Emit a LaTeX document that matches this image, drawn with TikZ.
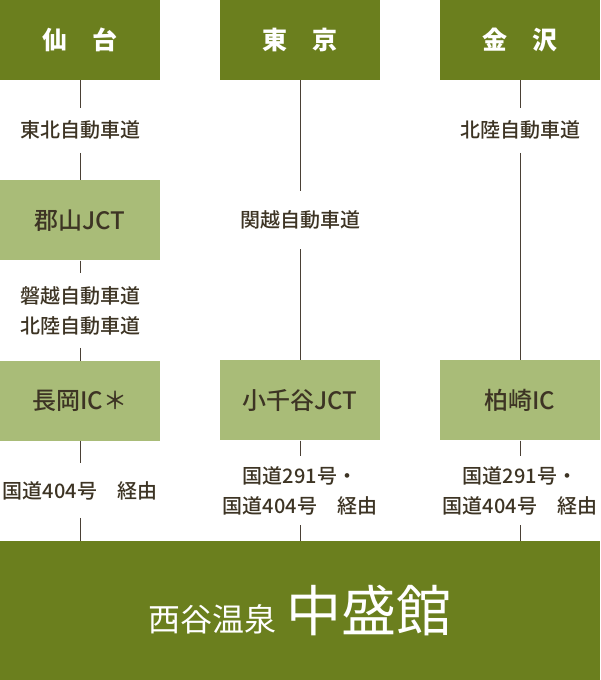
\documentclass[tikz,border=0pt]{standalone}
\usepackage{fontspec}
\setmainfont{Noto Sans CJK JP}
\newfontfamily\mediumfont{Noto Sans CJK JP Medium}
\usepackage{tikz}
\usetikzlibrary{positioning, calc}

\definecolor{olive}{HTML}{6B7F1E}
\definecolor{leaf}{HTML}{A9BC78}
\definecolor{ink}{HTML}{3D3424}
\definecolor{rule}{HTML}{4A4035}

\begin{document}
\begin{tikzpicture}[
        x=1pt, y=-1pt,
        city/.style={
          rectangle,
          fill=olive,
          text=white,
          minimum width=160pt,
          minimum height=80pt,
          inner sep=0pt,
          font=\fontsize{25}{25}\selectfont\bfseries
        },
        exit/.style={
          rectangle,
          fill=leaf,
          text=ink,
          minimum width=160pt,
          minimum height=80pt,
          inner sep=0pt,
          font=\fontsize{24}{24}\selectfont\mediumfont
        },
        road/.style={
          rectangle,
          text=ink,
          align=center,
          inner sep=0pt,
          font=\fontsize{20}{30}\selectfont\mediumfont
        },
        link/.style={
          draw=rule,
          line width=0.9pt
        }
      ]
      \useasboundingbox (0,0) rectangle (600,680);

      % Nodes
      \node [city] (sendai) at (80,40) {仙　台};
      \node [city] (tokyo) at (300,40) {東　京};
      \node [city] (kanazawa) at (520,40) {金　沢};
      \node [exit, below=100pt of sendai] (koriyama) {郡山JCT};
      \node [exit, below=100pt of koriyama] (nagaoka) {長岡IC＊};
      \node [exit, below=280pt of tokyo] (ojiya) {小千谷JCT};
      \node [exit, below=280pt of kanazawa] (kashiwazaki) {柏崎IC};
      \node [city, minimum width=600pt, minimum height=140pt, below=100pt of ojiya] (nakamori)
        {{\fontsize{32}{32}\selectfont\mdseries 西谷温泉}\hspace{10pt}{\fontsize{55}{55}\selectfont\mdseries 中盛館}};

      % Road labels
      \node [road, minimum height=45pt] (tohoku) at ($(sendai)!0.5!(koriyama)$) {東北自動車道};
      \node [road, minimum height=74pt] (bane) at ($(koriyama)!0.5!(nagaoka)$) {磐越自動車道\\北陸自動車道};
      \node [road, minimum height=58pt] (kanetsu) at ($(tokyo)!0.5!(ojiya)$) {関越自動車道};
      \node [road, minimum height=45pt] (hokuriku) at (kanazawa |- tohoku) {北陸自動車道};
      \node [road, minimum height=69pt] (ojiyaroute) at ($(ojiya.south)!0.5!(nakamori.north)$) {国道291号・\\国道404号　経由};
      \node [road, minimum height=69pt] (kashiroute) at (kashiwazaki |- ojiyaroute) {国道291号・\\国道404号　経由};
      \node [road, minimum height=54pt] (nagaroute) at (nagaoka |- ojiyaroute) {国道404号　経由};

      % Connectors
      \draw [link] (sendai) -- (tohoku);
      \draw [link] (tohoku) -- (koriyama);
      \draw [link] (koriyama) -- (bane);
      \draw [link] (bane) -- (nagaoka);
      \draw [link] (nagaoka) -- (nagaroute);
      \draw [link] (nagaroute) -- (nagaroute |- nakamori.north);
      \draw [link] (tokyo) -- (kanetsu);
      \draw [link] (kanetsu) -- (ojiya);
      \draw [link] (ojiya) -- (ojiyaroute);
      \draw [link] (ojiyaroute) -- (ojiyaroute |- nakamori.north);
      \draw [link] (kanazawa) -- (hokuriku);
      \draw [link] (hokuriku) -- (kashiwazaki);
      \draw [link] (kashiwazaki) -- (kashiroute);
      \draw [link] (kashiroute) -- (kashiroute |- nakamori.north);

    \end{tikzpicture}
\end{document}
